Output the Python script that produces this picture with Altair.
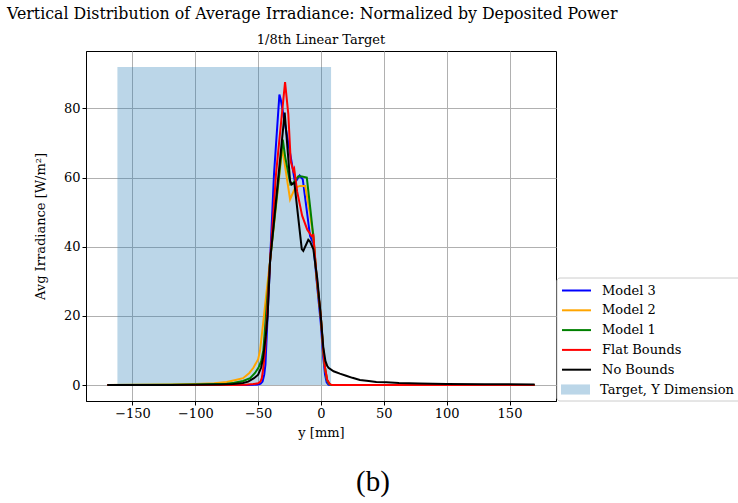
import altair as alt
import pandas as pd

series_names = ["Model 3", "Model 2", "Model 1", "Flat Bounds", "No Bounds"]
series_colors = ["#0000ff", "#ffa500", "#008000", "#ff0000", "#000000"]

# Model 3
m3_y = [-170, -120, -90, -70, -60, -54, -50, -48, -46.5, -45.2, -44.2, -42.5, -40.5, -37.4, -33.1, -32, -23.3,
        -22, -20.7, -17, -14.5, -8.7, -6.1, -3.4, -0.2, 1.8, 3.2, 4.5, 6, 8, 20, 60, 120, 170]
m3_v = [0, 0, 0, 0, 0.05, 0.1, 0.2, 0.4, 1, 3, 6, 20, 36, 61, 84, 82.5, 64.3,
        61.5, 58.5, 60.6, 59.5, 43.1, 41, 30, 18, 8, 3, 0.8, 0.1, 0, 0, 0, 0, 0]
# Model 2
m2_y = [-170, -120, -100, -85, -75, -68, -62, -57, -53.8, -50, -48.5, -46, -43, -40.5, -30.8, -24.6, -20.5,
        -16.6, -12.6, -9, -6.1, -3.4, -0.2, 1.8, 3.2, 4.8, 6.5, 8.5, 20, 60, 120, 170]
m2_v = [0, 0.15, 0.3, 0.5, 0.9, 1.5, 2, 3.5, 5, 7.5, 10, 18, 28, 36, 68.6, 53.7, 57.1,
        57.6, 57.6, 50, 43, 30.6, 20, 10, 5, 1.5, 0.3, 0, 0, 0, 0, 0]
# Model 1
m1_y = [-170, -120, -100, -85, -75, -69, -62, -56.4, -52.5, -49.8, -47.5, -45.9, -43.8, -40.5, -30.4, -28.5,
        -24.3, -22, -18, -15.2, -11.3, -8.5, -6.1, -3.4, -0.2, 1.8, 3.2, 4.8, 6.5, 8.5, 20, 60, 120, 170]
m1_v = [0, 0.1, 0.2, 0.3, 0.4, 0.7, 1.2, 2, 3.5, 5, 7, 10, 20, 36, 71, 66,
        58, 58.5, 60.4, 60.3, 60, 51, 43, 30.6, 20, 10, 5, 1.5, 0.3, 0, 0, 0, 0, 0]
# Flat Bounds
fb_y = [-170, -100, -70, -60, -54, -50, -48.2, -47.1, -45.9, -44.5, -43, -40.5, -35.8, -28.6, -26, -24.1,
        -22, -21.3, -19, -15, -11, -7.4, -6.1, -3.4, -0.2, 1.8, 3.2, 5, 7, 9, 20, 60, 120, 170]
fb_v = [0, 0, 0.05, 0.1, 0.3, 0.5, 1, 2, 5, 10, 20, 36, 61, 87.6, 78.3, 64.8,
        61.9, 62.5, 56, 49, 45, 43.1, 43.4, 31, 20, 10, 5, 1.5, 0.3, 0, 0, 0, 0, 0]
# No Bounds
nb_y = [-170, -120, -100, -80, -70, -62, -58, -53.3, -50, -47.7, -46, -44, -42.5, -40.5, -28.9, -24.6, -23.3,
        -21.2, -15.3, -14.1, -10.1, -8.7, -6.1, -2.9, -0.2, 1.8, 3.5, 5, 6, 10, 15, 20, 25, 31, 38, 44,
        52, 62, 78, 100, 130, 170]
nb_v = [0, 0.05, 0.1, 0.2, 0.3, 0.6, 1, 2, 3, 5, 8, 14, 20, 36, 78.8, 59, 58,
        58.5, 39.3, 38.8, 42, 41.5, 39.3, 30.6, 20, 11, 7, 5.5, 5, 4, 3.3, 2.7, 2.1, 1.5, 1.2, 0.9,
        0.8, 0.6, 0.45, 0.35, 0.25, 0.2]

target_label = "Target, Y Dimension"
target_start = [-162]
target_end = [8]
target_low = [0]
target_high = [92]

x_ticks = [-150, -100, -50, 0, 50, 100, 150]
y_ticks = [0, 20, 40, 60, 80]

series_data = [(series_names[0], m3_y, m3_v), (series_names[1], m2_y, m2_v), (series_names[2], m1_y, m1_v),
               (series_names[3], fb_y, fb_v), (series_names[4], nb_y, nb_v)]

W, H = 470, 350
FONT = "DejaVu Serif"

xscale = alt.Scale(domain=[-187, 187], nice=False, zero=False)
yscale = alt.Scale(domain=[-4.6, 96.6], nice=False, zero=False)
stroke_scale = alt.Scale(domain=series_names, range=series_colors)
fill_scale = alt.Scale(domain=[target_label], range=["#1f77b4"])

xaxis = alt.Axis(values=x_ticks, title="y [mm]", titlePadding=6)
yaxis = alt.Axis(values=y_ticks, title="Avg Irradiance [W/m²]", titlePadding=16)

stroke_legend = alt.Legend(title=None, orient="none", legendX=482, legendY=231, symbolType="M-2,0H2",
                           symbolSize=210, symbolStrokeWidth=2, labelFont=FONT, labelFontSize=13,
                           labelColor="black", labelOffset=17, rowPadding=3.8, padding=0)
fill_legend = alt.Legend(title=None, orient="none", legendX=482, legendY=331,
                         symbolType="M-2,-0.7H2V0.7H-2Z", symbolSize=210, symbolOpacity=0.3,
                         symbolStrokeWidth=0, labelFont=FONT, labelFontSize=13, labelColor="black",
                         labelOffset=17, padding=0)

target_df = pd.DataFrame({"x0": target_start, "x1": target_end, "lo": target_low, "hi": target_high,
                          "label": [target_label]})
target = alt.Chart(target_df).mark_rect(opacity=0.3).encode(
    x=alt.X("x0:Q", scale=xscale, axis=xaxis),
    x2="x1:Q",
    y=alt.Y("lo:Q", scale=yscale, axis=yaxis),
    y2="hi:Q",
    fill=alt.Fill("label:N", scale=fill_scale, legend=fill_legend),
)

frames = []
for name, ys, vs in series_data:
    frames.append(pd.DataFrame({"y": ys, "v": vs, "series": name, "order": list(range(len(ys)))}))

layers = [target]
for i, df in enumerate(frames):
    layers.append(
        alt.Chart(df).mark_line(strokeWidth=2).encode(
            x=alt.X("y:Q", scale=xscale),
            y=alt.Y("v:Q", scale=yscale),
            stroke=alt.Stroke("series:N", scale=stroke_scale,
                              legend=stroke_legend if i == 0 else None),
            order="order:Q",
        )
    )

one = pd.DataFrame({"a": [0]})
legend_box = alt.Chart(one).mark_rect(fill="white", stroke="#cccccc", strokeWidth=1, cornerRadius=3).encode(
    x=alt.value(471), x2=alt.value(760), y=alt.value(227), y2=alt.value(350)
)
main_title = alt.Chart(one).mark_text(
    text="Vertical Distribution of Average Irradiance: Normalized by Deposited Power",
    font=FONT, fontSize=15.8, align="left", baseline="middle", color="black"
).encode(x=alt.value(-79), y=alt.value(-37))
sub_title = alt.Chart(one).mark_text(
    text="1/8th Linear Target",
    font=FONT, fontSize=13, align="center", baseline="middle", color="black"
).encode(x=alt.value(W / 2), y=alt.value(-11))
panel_label = alt.Chart(one).mark_text(
    text="(b)", font="Liberation Serif", fontSize=29, align="center", baseline="middle", color="black"
).encode(x=alt.value(287), y=alt.value(431))

chart = alt.layer(*layers, legend_box, main_title, sub_title, panel_label).properties(
    width=W, height=H,
    autosize=alt.AutoSizeParams(type="none"),
    padding={"left": 86, "top": 51, "right": 738 - 86 - W, "bottom": 503 - 51 - H},
).configure_axis(
    labelFont=FONT, labelFontSize=13, labelColor="black", titleFont=FONT, titleFontSize=13,
    titleColor="black", titleFontWeight="normal", tickColor="black", tickSize=4, tickWidth=1,
    domainColor="black", domainWidth=1, gridColor="#b0b0b0", gridWidth=1, labelPadding=2,
).configure_view(stroke="black", strokeWidth=1)

chart.save("out.html", embed_options={"renderer": "svg", "actions": False})
